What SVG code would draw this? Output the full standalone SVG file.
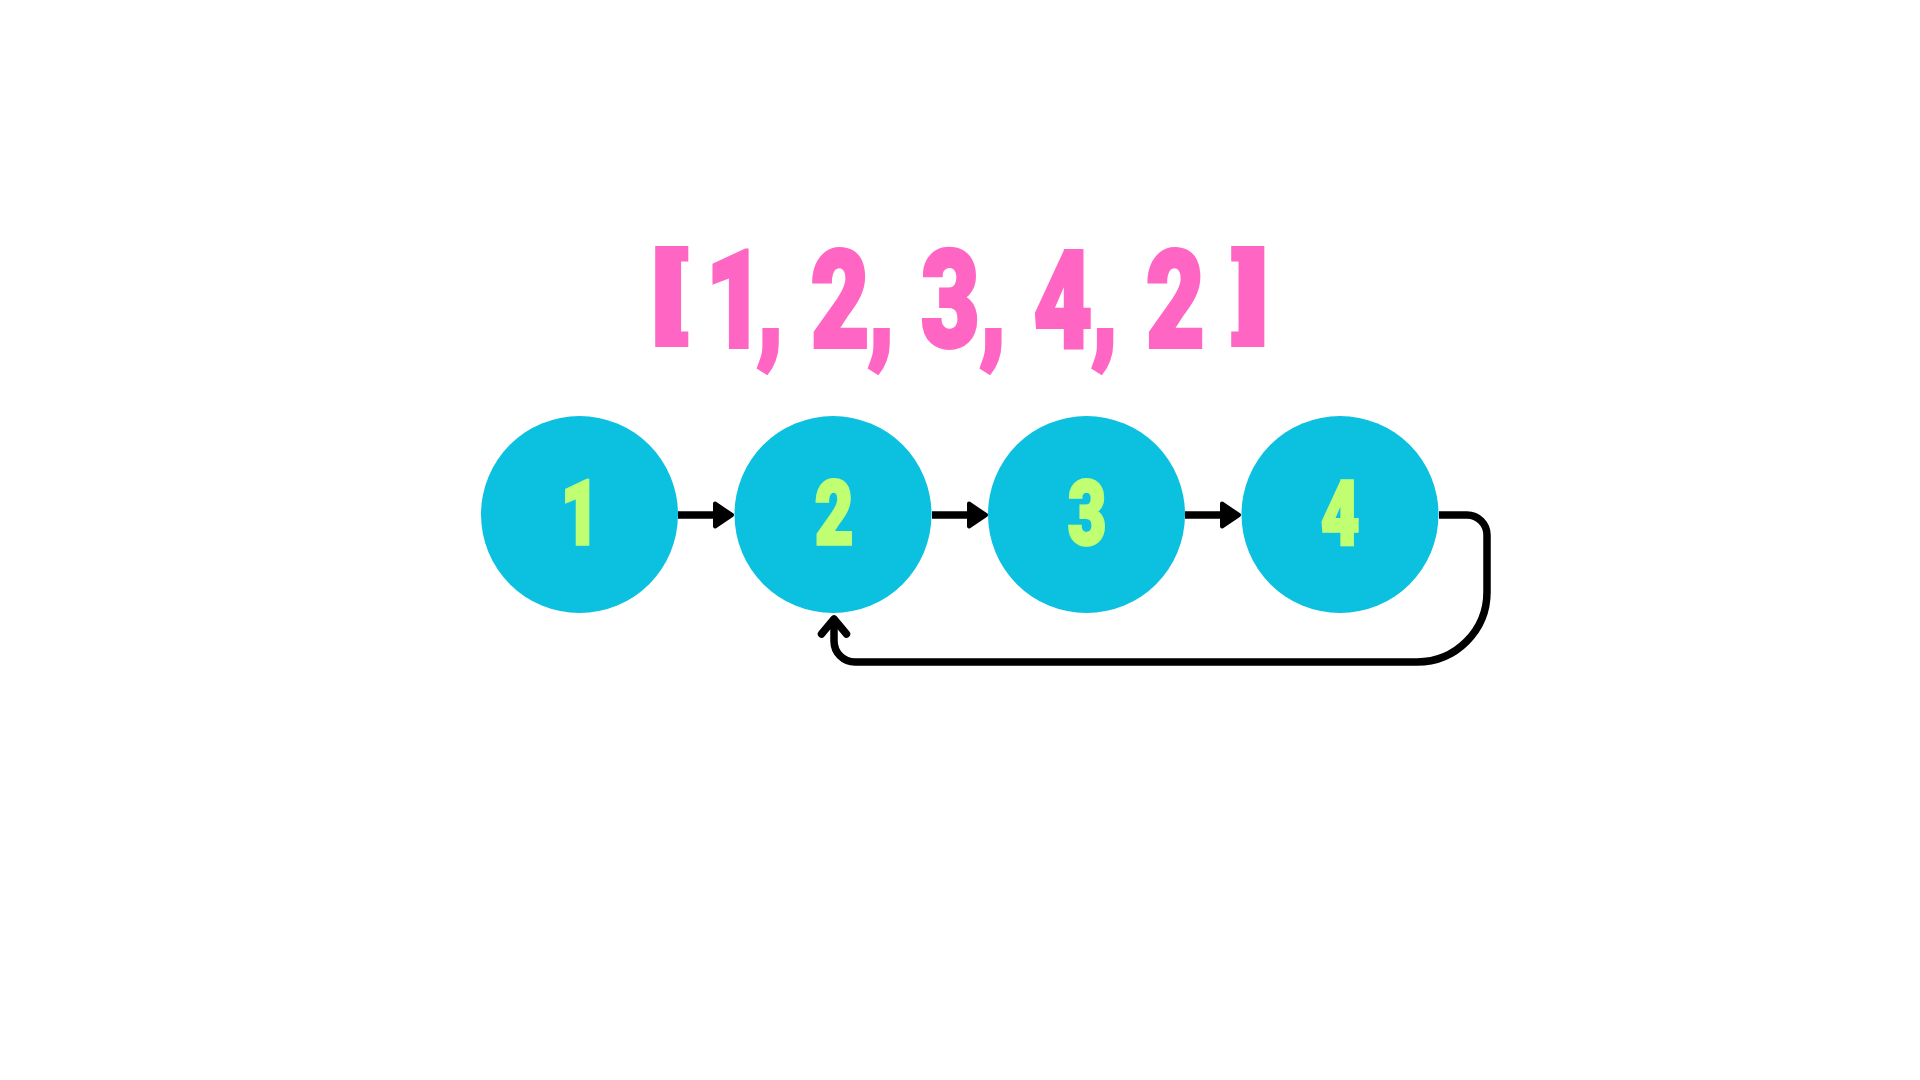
<svg xmlns="http://www.w3.org/2000/svg" width="1920" height="1080" viewBox="0 0 1920 1080">
<defs>
<style>
.node{fill:#0CC0DF}
.num{font-family:Roboto,Inter,"Noto Sans","Liberation Sans",sans-serif;font-weight:900;font-size:88px;fill:#C1FF72;stroke:#C1FF72;stroke-width:3.5;text-anchor:middle}
.title{font-family:Roboto,Inter,"Noto Sans","Liberation Sans",sans-serif;font-weight:900;font-size:135px;fill:#FF66C4;stroke:#FF66C4;stroke-width:4;text-anchor:middle}
.br{font-size:96px}
.edge{fill:none;stroke:#000;stroke-width:7.5;stroke-linejoin:round}
.open{fill:none;stroke:#000;stroke-width:7.5;stroke-linecap:round;stroke-linejoin:round}
</style>
<marker id="tri" markerUnits="userSpaceOnUse" viewBox="-3 -16 24 32" markerWidth="24" markerHeight="32" refX="0" refY="0" orient="auto">
<path d="M0,-11.5 L17,0 L0,11.5 Z" fill="#000" stroke="#000" stroke-width="4" stroke-linejoin="round"/>
</marker>
</defs>
<rect width="1920" height="1080" fill="#fff"/>
<g id="title">
<text class="title br" transform="scale(1.3,1)" x="514.5" y="329">[</text>
<text class="title" transform="scale(0.75,1)" x="980 1027 1056 1120 1175 1204 1267 1324 1353 1417 1473 1503 1567" y="347">1, 2, 3, 4, 2</text>
<text class="title br" transform="scale(1.3,1)" x="962" y="329">]</text>
</g>
<g id="connectors">
<path class="edge" d="M678,515 H715" marker-end="url(#tri)"/>
<path class="edge" d="M932,515 H969" marker-end="url(#tri)"/>
<path class="edge" d="M1185,515 H1222" marker-end="url(#tri)"/>
<path class="edge" d="M1439,515 H1467 A20,20 0 0 1 1487,535 V592 A70,70 0 0 1 1417,662 H855 A21,21 0 0 1 834,641 V620"/>
<path class="open" d="M821.5,634 L834,619 L846.5,634"/>
</g>
<g id="node1">
<circle class="node" cx="579.5" cy="514.5" r="98.5"/>
<text class="num" transform="translate(580,544) scale(0.75,1)">1</text>
</g>
<g id="node2">
<circle class="node" cx="833" cy="514.5" r="98.5"/>
<text class="num" transform="translate(834,544) scale(0.75,1)">2</text>
</g>
<g id="node3">
<circle class="node" cx="1086.5" cy="514.5" r="98.5"/>
<text class="num" transform="translate(1087,544) scale(0.75,1)">3</text>
</g>
<g id="node4">
<circle class="node" cx="1340" cy="514.5" r="98.5"/>
<text class="num" transform="translate(1340,544) scale(0.75,1)">4</text>
</g>
</svg>
